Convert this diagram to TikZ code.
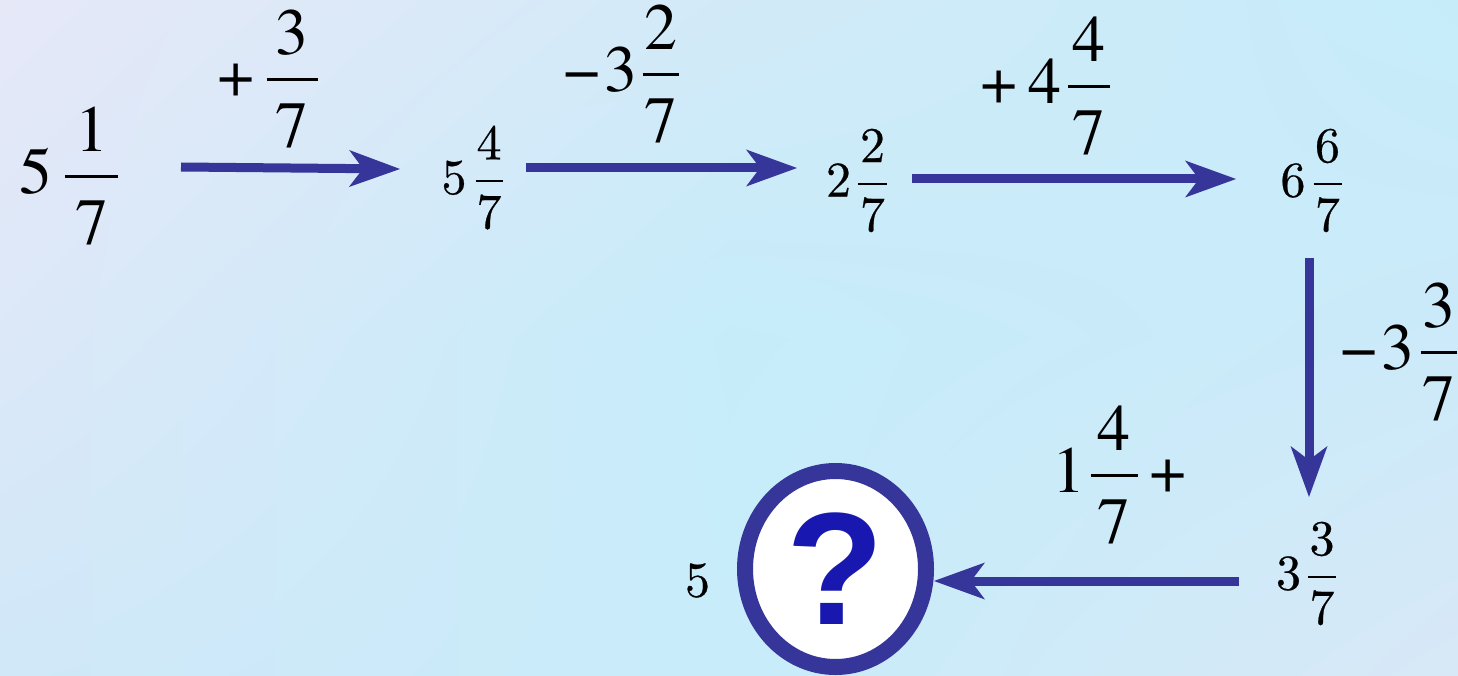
\documentclass[tikz,border=0pt]{standalone}
\usepackage{fontspec}
\newfontfamily\tnr{texgyretermes-regular.otf}
\newfontfamily\cam{lmroman10-regular.otf}[FakeBold=0.5]
\newfontfamily\qsans{Liberation Sans}
\usetikzlibrary{arrows.meta,shapes.geometric,shadings}
\definecolor{arrowblue}{HTML}{35359A}
\definecolor{qblue}{HTML}{1818B0}
\definecolor{bgTL}{HTML}{E6E8F8}
\definecolor{bgTM}{HTML}{D2EAF8}
\definecolor{bgTR}{HTML}{C6ECFA}
\definecolor{bgML}{HTML}{DCE8F8}
\definecolor{bgMM}{HTML}{C6ECFA}
\definecolor{bgMR}{HTML}{CCEAF9}
\definecolor{bgBL}{HTML}{D0E8F8}
\definecolor{bgBM}{HTML}{C8ECFA}
\definecolor{bgBR}{HTML}{D8E8F7}
% text-built fraction: #1 side padding, #2 numerator, #3 denominator
\def\FrNum{0.63em}\def\FrDen{0.78em}
\newcommand{\Fr}[3]{%
  \setbox0=\hbox{\kern#1\relax#2\kern#1\relax}%
  \setbox2=\hbox{\kern#1\relax#3\kern#1\relax}%
  \dimen0=\wd0 \ifdim\wd2>\dimen0 \dimen0=\wd2 \fi
  \kern1pt
  \rlap{\raisebox{\FrNum}{\hbox to\dimen0{\hss\box0\hss}}}%
  \rlap{\raisebox{-\FrDen}{\hbox to\dimen0{\hss\box2\hss}}}%
  \rlap{\raisebox{0.228em}{\rule{\dimen0}{0.044em}}}%
  \kern\dimen0 \kern1pt}
\tikzset{
  bignum/.style={inner sep=0pt,
    font=\tnr\fontsize{66}{72}\selectfont\def\FrNum{0.63em}\def\FrDen{0.78em}},
  smallnum/.style={inner sep=0pt,
    font=\cam\fontsize{50}{56}\selectfont\def\FrNum{0.69em}\def\FrDen{0.69em}},
  arr/.style={draw=arrowblue, line width=9pt,
    -{Stealth[length=51pt,width=37pt,inset=14pt,line width=0pt]}},
  qcircle/.style={ellipse, draw=arrowblue, line width=16pt, fill=white,
    minimum width=181pt, minimum height=196pt, inner sep=0pt, text=qblue,
    font={\qsans\bfseries\fontsize{160}{160}\selectfont}}
}
\begin{document}
\begin{tikzpicture}[x=1pt,y=-1pt]
\useasboundingbox (0,0) rectangle (1458,676);
% background: four bilinear patches
\shade[upper left=bgTL, upper right=bgTM, lower left=bgML, lower right=bgMM]
  (0,0) rectangle (729.5,338.5);
\shade[upper left=bgTM, upper right=bgTR, lower left=bgMM, lower right=bgMR]
  (729,0) rectangle (1458,338.5);
\shade[upper left=bgML, upper right=bgMM, lower left=bgBL, lower right=bgBM]
  (0,338) rectangle (729.5,676);
\shade[upper left=bgMM, upper right=bgMR, lower left=bgBM, lower right=bgBR]
  (729,338) rectangle (1458,676);

% numbers
\node[bignum] (A) at (69,176) {5\kern12pt\Fr{10pt}{1}{7}};
\node[smallnum] (B) at (472.5,177.5) {5\kern8pt\Fr{1pt}{4}{7}};
\node[smallnum] (C) at (857,180.5) {2\kern6pt\Fr{2pt}{2}{7}};
\node[smallnum] (D) at (1311.5,180.5) {6\kern7pt\Fr{1.5pt}{6}{7}};
\node[smallnum] (E) at (1306.5,573.5) {3\kern6pt\Fr{1.5pt}{3}{7}};
\node[smallnum] (F) at (697.5,580.5) {5};
\node[qcircle] (q) at (835.5,569) {?};

% operation labels
\node[bignum] (L1) at (268,79) {+\kern11pt\Fr{9pt}{3}{7}};
\node[bignum] (L2) at (621.5,74) {−\kern4pt 3\kern4pt\Fr{1.5pt}{2}{7}};
\node[bignum] (L3) at (1046,86) {+\kern10pt 4\kern6pt\Fr{4.5pt}{4}{7}};
\node[bignum] (L4) at (1399,352) {−\kern4pt 3\kern5pt\Fr{1.5pt}{3}{7}};
\node[bignum] (L5) at (1120,475) {1\kern4pt\Fr{7pt}{4}{7}\kern11pt+};

% connectors
\draw[arr] ([xshift=112pt,yshift=9pt]A.center) -- ([xshift=-72.5pt,yshift=8.5pt]B.center);
\draw[arr] ([xshift=53.5pt,yshift=9.5pt]B.center) -- ([xshift=-60pt,yshift=12.5pt]C.center);
\draw[arr] ([xshift=55pt,yshift=1.5pt]C.center) -- ([xshift=-75.5pt,yshift=1.5pt]D.center);
\draw[arr] ([xshift=-2.5pt,yshift=-77.5pt]D.center) -- ([xshift=2.5pt,yshift=76.5pt]E.center);
\draw[arr] ([xshift=-67.5pt,yshift=-7.5pt]E.center) -- ([yshift=-12pt]q.east);
\end{tikzpicture}
\end{document}
